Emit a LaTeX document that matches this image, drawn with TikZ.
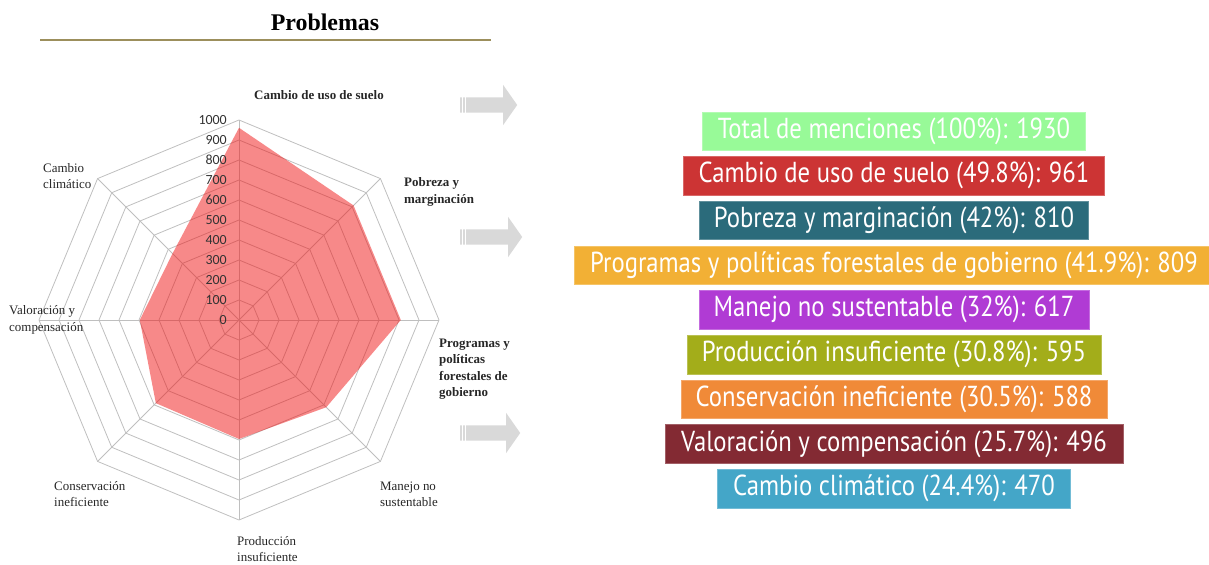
\documentclass[tikz,border=0pt]{standalone}
\usepackage{fontspec}
\setmainfont{Liberation Serif}
\newfontfamily\barfont[FakeStretch=0.855]{PT Sans}
\newfontfamily\tickfont{Carlito}
\usetikzlibrary{positioning,shapes.arrows}

\definecolor{gridgray}{RGB}{191,191,191}
\definecolor{radarred}{RGB}{240,20,20}
\definecolor{titleline}{RGB}{156,143,92}
\definecolor{arrowgray}{RGB}{217,217,217}
\definecolor{boxgreen}{RGB}{152,250,152}
\definecolor{boxred}{RGB}{204,52,52}
\definecolor{boxteal}{RGB}{43,107,123}
\definecolor{boxyellow}{RGB}{242,176,53}
\definecolor{boxpurple}{RGB}{176,59,212}
\definecolor{boxolive}{RGB}{163,173,26}
\definecolor{boxorange}{RGB}{240,138,56}
\definecolor{boxwine}{RGB}{131,42,51}
\definecolor{boxblue}{RGB}{68,166,200}

\begin{document}
\begin{tikzpicture}[x=1bp, y=1bp, node distance=5.8bp,
    gridline/.style={draw=gridgray, line width=0.8bp},
    axislabel/.style={anchor=west, align=left, inner sep=0pt, font=\fontsize{13}{16.5}\selectfont, text=black!85},
    tick/.style={anchor=east, inner sep=0pt, font=\tickfont\fontsize{14}{14}\selectfont, text=black!80},
    bar/.style={fill=#1, draw=#1!75!white, minimum height=38.5bp, inner sep=0pt, text=white, font=\barfont\fontsize{29}{29}\selectfont},
    blockarrow/.style={single arrow, fill=arrowgray, inner xsep=0pt, inner ysep=7.5bp, single arrow head extend=12.5bp, single arrow tip angle=110, anchor=tail}]

    \useasboundingbox (0,0) rectangle (1209,-565);

    % title
    \node[font=\bfseries\fontsize{24}{24}\selectfont] (title) at (325,-22) {Problemas};
    \draw[titleline, line width=2bp] (40,-40.5) -- (491,-40.5);

    % radar chart
    \begin{scope}[shift={(239,-320)}]
        \foreach \k in {1,...,10}
            \draw[gridline] (90:20*\k) \foreach \a in {45,0,...,-225} { -- (\a:20*\k) } -- cycle;
        \foreach \a in {0,45,...,315}
            \draw[gridline] (0,0) -- (\a:200);
        \fill[radarred, fill opacity=.5] (90:192.2) -- (45:162) -- (0:161.8) -- (-45:123.4)
            -- (-90:119) -- (-135:117.6) -- (180:99.2) -- (135:94) -- cycle;
        \foreach \v in {0,100,...,1000}
            \node[tick] (t\v) at (-12,\v/5) {\v};
    \end{scope}

    \node[axislabel, font=\bfseries\fontsize{13}{16.5}\selectfont] (suelolbl)    at (254,-95)  {Cambio de uso de suelo};
    \node[axislabel, font=\bfseries\fontsize{13}{16.5}\selectfont] (pobrezalbl)  at (404,-192) {Pobreza y\\marginación};
    \node[axislabel, font=\bfseries\fontsize{13}{16.5}\selectfont] (programaslbl) at (439,-369) {Programas y\\políticas\\forestales de\\gobierno};
    \node[axislabel] (manejolbl)     at (380,-494) {Manejo no\\sustentable};
    \node[axislabel] (produccionlbl) at (237,-549) {Producción\\insuficiente};
    \node[axislabel] (conservlbl)    at (54,-494)  {Conservación\\ineficiente};
    \node[axislabel] (valoracionlbl) at (9,-320)   {Valoración y\\compensación};
    \node[axislabel] (climalbl)      at (43,-176)  {Cambio\\climático};

    % arrows
    \node[blockarrow, minimum height=57bp] (arr1) at (460,-105) {};
    \node[blockarrow, minimum height=62bp] (arr2) at (460,-237) {};
    \node[blockarrow, minimum height=60bp] (arr3) at (460,-433) {};
    \foreach \n in {arr1,arr2,arr3}
        \foreach \s in {2.5,5}
            \draw[white, line width=.8bp] ([xshift=\s bp, yshift=-8bp]\n.tail) -- ([xshift=\s bp, yshift=8bp]\n.tail);

    % totals
    \node[bar=boxgreen, minimum width=383bp]  (total) at (894,-131) {Total de menciones (100\%): 1930};
    \node[bar=boxred, minimum width=421bp,    below=of total]      (suelo)      {Cambio de uso de suelo (49.8\%): 961};
    \node[bar=boxteal, minimum width=389bp,   below=of suelo]      (pobreza)    {Pobreza y marginación (42\%): 810};
    \node[bar=boxyellow, minimum width=640bp, below=of pobreza]    (programas)  {Programas y políticas forestales de gobierno (41.9\%): 809};
    \node[bar=boxpurple, minimum width=390bp, below=of programas]  (manejo)     {Manejo no sustentable (32\%): 617};
    \node[bar=boxolive, minimum width=414bp,  below=of manejo]     (produccion) {Producción insuficiente (30.8\%): 595};
    \node[bar=boxorange, minimum width=426bp, below=of produccion] (conserv)    {Conservación ineficiente (30.5\%): 588};
    \node[bar=boxwine, minimum width=458bp,   below=of conserv]    (valoracion) {Valoración y compensación (25.7\%): 496};
    \node[bar=boxblue, minimum width=353bp,   below=of valoracion] (clima)      {Cambio climático (24.4\%): 470};
\end{tikzpicture}
\end{document}
